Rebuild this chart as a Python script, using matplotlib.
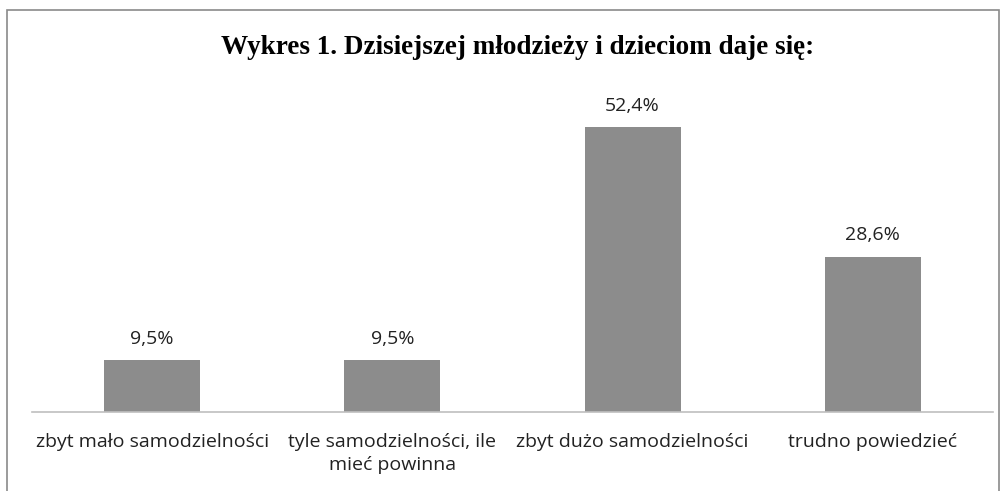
import matplotlib.pyplot as plt
from matplotlib.patches import Rectangle

categories = ["zbyt mało samodzielności", "tyle samodzielności, ile\nmieć powinna",
              "zbyt dużo samodzielności", "trudno powiedzieć"]
values = [9.5, 9.5, 52.4, 28.6]
labels = ["9,5%", "9,5%", "52,4%", "28,6%"]

W, H = 1007, 491
fig = plt.figure(figsize=(W / 100, H / 100), dpi=100)

# outer frame of the chart area
fig.patches.append(Rectangle((7 / W, -0.05), 992 / W, 1.05 - 10 / H, transform=fig.transFigure,
                             fill=False, edgecolor="#8a8a8a", linewidth=1.2))

ax = fig.add_axes([32 / W, 79 / H, 961 / W, 326 / H])
x = range(len(categories))
ax.bar(x, values, width=0.4, color="#8c8c8c")
ax.set_xlim(-0.5, 3.5)
ax.set_ylim(0, 60)

for i, v in enumerate(values):
    ax.annotate(labels[i], (i, v), xytext=(0, 9), textcoords="offset points",
                ha="center", va="bottom", fontsize=14, family="Open Sans", color="#222222")

ax.set_xticks(list(x))
ax.set_xticklabels(categories, fontsize=14, family="Open Sans", color="#222222",
                   linespacing=1.35, va="top")
ax.tick_params(axis="x", length=0, pad=15)
ax.set_yticks([])
for s in ["top", "left", "right"]:
    ax.spines[s].set_visible(False)
ax.spines["bottom"].set_color("#bfbfbf")
ax.spines["bottom"].set_linewidth(1.2)

fig.text(518 / W, 1 - 48 / H, "Wykres 1. Dzisiejszej młodzieży i dzieciom daje się:",
         ha="center", va="center", fontsize=19.5, fontweight="bold", family="Liberation Serif")

fig.savefig("out.png", dpi=100)
